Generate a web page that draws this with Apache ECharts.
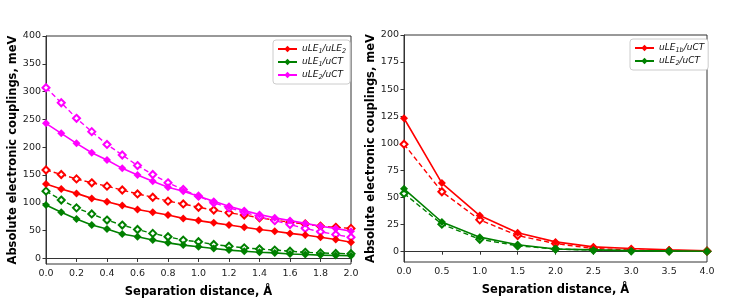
<!DOCTYPE html>
<html><head><meta charset="utf-8">
<script src="https://cdn.jsdelivr.net/npm/echarts@6/dist/echarts.min.js"></script>
<style>html,body{margin:0;padding:0;background:#fff}#c{width:747px;height:307px}</style>
</head><body><div id="c"></div>
<script>
// Left panel: x 0..2.0 step 0.1
var xLeft = [0.0,0.1,0.2,0.3,0.4,0.5,0.6,0.7,0.8,0.9,1.0,1.1,1.2,1.3,1.4,1.5,1.6,1.7,1.8,1.9,2.0];
var redSolidL   = [134,125,117,108,102,95,88,83,78,72,68,64,60,56,52,49,45,42,38,34,29];
var redDashL    = [159,151,143,136,130,123,116,110,103,98,92,87,82,78,73,69,65,62,58,56,54];
var greenSolidL = [96,83,71,60,53,44,39,33,28,24,21,18,15,13,11,10,8,7,6,5.4,5];
var greenDashL  = [121,105,91,80,69,60,52,45,39,33,30,25,22,19,17,15,13,11,10,9,8.5];
var magSolidL   = [243,225,207,190,177,162,150,139,128,121,112,103,94,86,79,73,68,63,58,54,49];
var magDashL    = [307,280,252,228,205,186,167,151,136,124,112,100,91,83,75,68,61,54,48,43,38];
// Right panel: x 0..4.0 step 0.5
var xRight = [0.0,0.5,1.0,1.5,2.0,2.5,3.0,3.5,4.0];
var redSolidR   = [123,63,33,17,8.6,4,2.5,1.2,0.3];
var redDashR    = [99,55,29,14.5,7,2.5,1,0.5,0];
var greenSolidR = [57.7,27,13,6,2,1.2,0.5,0.3,0];
var greenDashR  = [53.4,25,11,5,2,1,0.3,0.1,0];
// tick labels
var yTicksL = [0,50,100,150,200,250,300,350,400];
var yTicksR = [0,25,50,75,100,125,150,175,200];

var RED='#ff0000', GREEN='#008000', MAG='#ff00ff';
function pairs(xs, ys){ return xs.map(function(x,i){return [x, ys[i]];}); }
function solid(name, color, xs, ys, gi){
  return {name:name, type:'line', xAxisIndex:gi, yAxisIndex:gi, data:pairs(xs,ys),
    symbol:'diamond', symbolSize:8, lineStyle:{color:color,width:1.6}, itemStyle:{color:color},
    emphasis:{disabled:true}, animation:false, z:3};
}
function dashed(color, xs, ys, gi){
  return {name:'_'+Math.random(), type:'line', xAxisIndex:gi, yAxisIndex:gi, data:pairs(xs,ys),
    symbol:'emptyDiamond', symbolSize:7, lineStyle:{color:color,width:1.4,type:[5,3]},
    itemStyle:{color:color, borderWidth:1}, emphasis:{disabled:true}, animation:false, z:2};
}
var ax = {lineStyle:{color:'#333',width:1}};
var lbl = {color:'#222', fontSize:9.5, fontFamily:'DejaVu Sans'};
var nameStyle = {fontFamily:'DejaVu Sans', fontWeight:'bold', fontSize:11.5, color:'#000'};
function xAx(gi, max, interval){
  return {type:'value', gridIndex:gi, min:0, max:max, interval:interval,
    name:'Separation distance, Å', nameLocation:'middle', nameGap:22, nameTextStyle:nameStyle,
    axisLine:ax, axisTick:{show:true,length:3.5,lineStyle:{color:'#333'}},
    axisLabel:Object.assign({formatter:function(v){return v.toFixed(1);}, margin:5}, lbl),
    splitLine:{show:false}};
}
function yAx(gi, max, ticks, gap){
  return {type:'value', gridIndex:gi, min:-10, max:max,
    name:'Absolute electronic couplings, meV', nameLocation:'middle', nameGap:gap, nameTextStyle:nameStyle,
    axisLine:ax, axisTick:{show:true,length:3.5,lineStyle:{color:'#333'},customValues:ticks},
    axisLabel:Object.assign({customValues:ticks, margin:5}, lbl),
    splitLine:{show:false}};
}
var legText = {fontSize:9, fontStyle:'italic', fontFamily:'DejaVu Sans', color:'#111',
  rich:{n:{fontSize:9,fontStyle:'italic',fontFamily:'DejaVu Sans',color:'#111',lineHeight:12,verticalAlign:'middle'},
        s:{fontSize:6.5,fontStyle:'italic',fontFamily:'DejaVu Sans',color:'#111',lineHeight:12,padding:[5,0,0,0],verticalAlign:'middle'}}};
function legendFmt(name){
  var m = {
    'L1':'{n|uLE}{s|1}{n|/uLE}{s|2}',
    'L2':'{n|uLE}{s|1}{n|/uCT}',
    'L3':'{n|uLE}{s|2}{n|/uCT}',
    'R1':'{n|uLE}{s|1b}{n|/uCT}',
    'R2':'{n|uLE}{s|2}{n|/uCT}'
  };
  return m[name] || name;
}
var legBase = {orient:'vertical', borderColor:'#ccc', borderWidth:1, borderRadius:3,
  padding:[3,4,3,4], itemGap:1, itemWidth:19, itemHeight:8, textStyle:legText, formatter:legendFmt,
  selectedMode:false, backgroundColor:'#fff'};

var chart = echarts.init(document.getElementById('c'), null, {renderer:'canvas'});
chart.setOption({
  animation:false,
  backgroundColor:'#fff',
  grid:[{left:46, right:396, top:36, bottom:43, show:true, borderColor:'#333', borderWidth:1, backgroundColor:'transparent'},
        {left:404, right:40, top:35, bottom:45, show:true, borderColor:'#333', borderWidth:1, backgroundColor:'transparent'}],
  xAxis:[xAx(0,2,0.2), xAx(1,4,0.5)],
  yAxis:[yAx(0,400,yTicksL,27), yAx(1,200,yTicksR,20)],
  legend:[Object.assign({data:['L1','L2','L3'], left:273, top:40}, legBase),
          Object.assign({data:['R1','R2'], left:630, top:39}, legBase)],
  series:[
    dashed(RED, xLeft, redDashL, 0),
    dashed(GREEN, xLeft, greenDashL, 0),
    dashed(MAG, xLeft, magDashL, 0),
    solid('L1', RED, xLeft, redSolidL, 0),
    solid('L2', GREEN, xLeft, greenSolidL, 0),
    solid('L3', MAG, xLeft, magSolidL, 0),
    dashed(RED, xRight, redDashR, 1),
    dashed(GREEN, xRight, greenDashR, 1),
    solid('R1', RED, xRight, redSolidR, 1),
    solid('R2', GREEN, xRight, greenSolidR, 1)
  ]
});
</script></body></html>
